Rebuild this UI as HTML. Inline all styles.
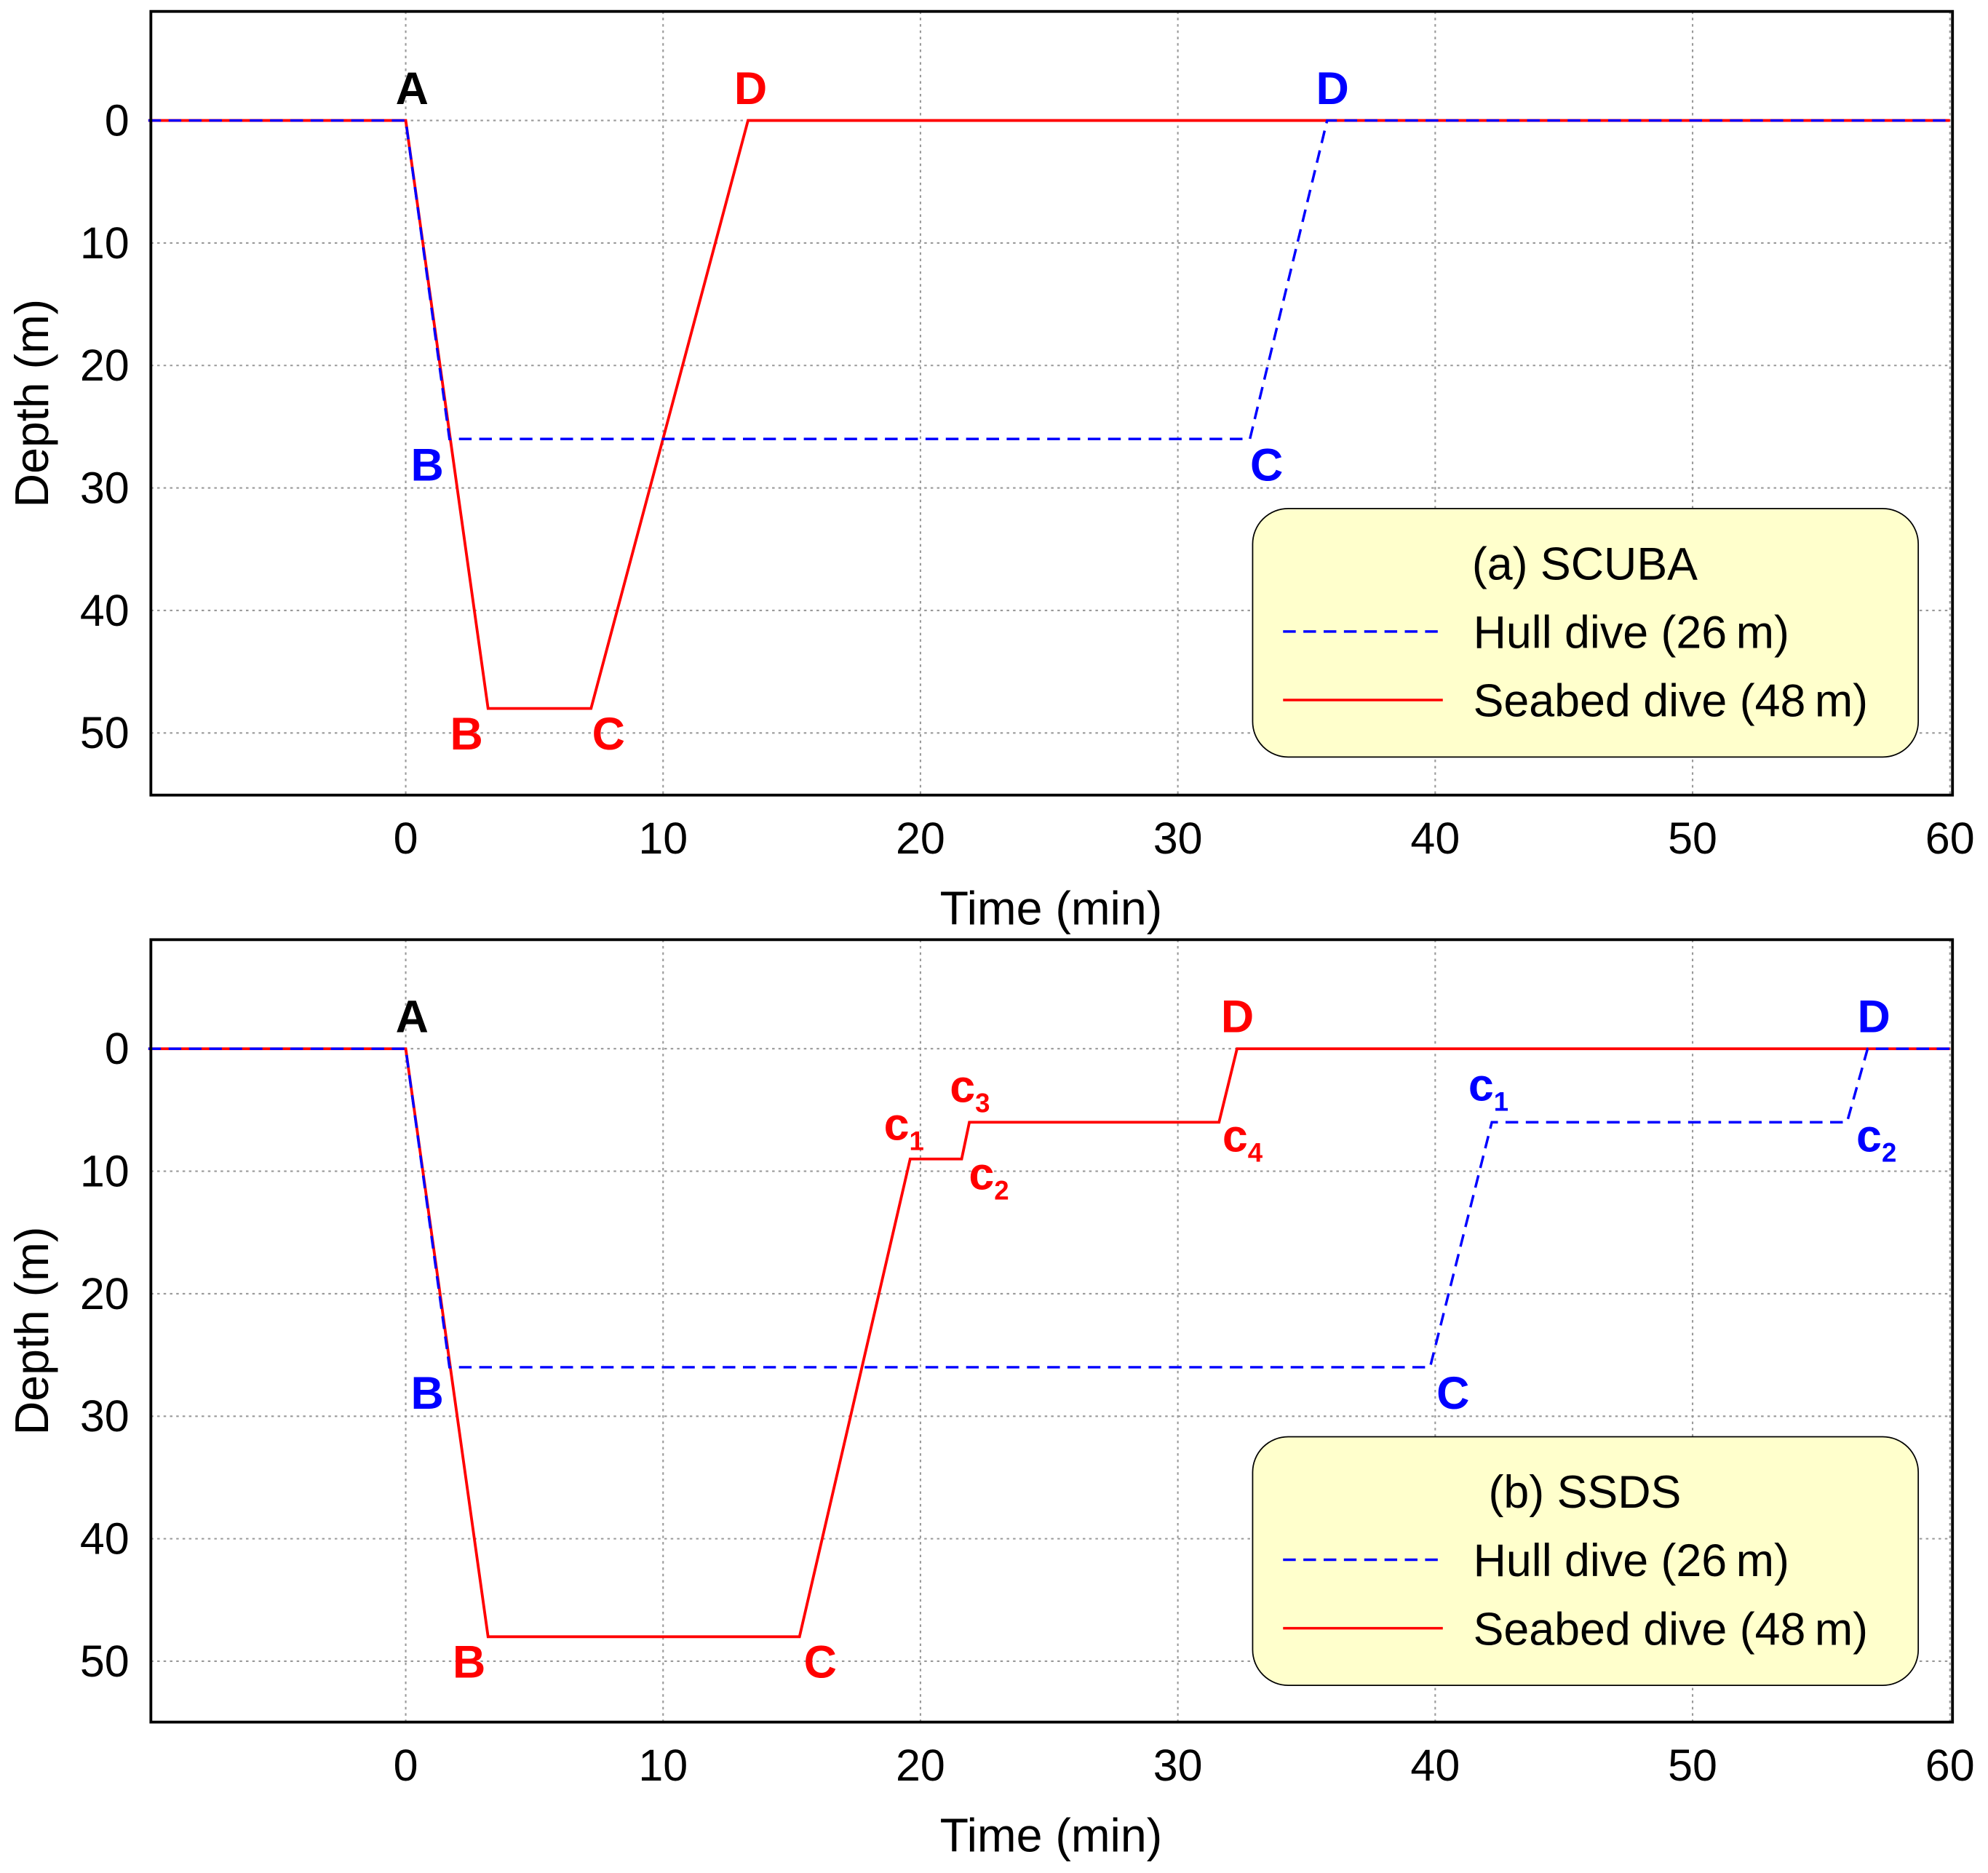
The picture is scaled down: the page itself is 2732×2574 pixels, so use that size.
<!DOCTYPE html>
<html><head><meta charset="utf-8"><style>
html,body{margin:0;padding:0;background:#fff;}
svg{display:block;font-family:"Liberation Sans",Arial,sans-serif;}
</style></head><body>
<svg id="chart" xmlns="http://www.w3.org/2000/svg" width="2732" height="2574" viewBox="0 0 1568 1477" preserveAspectRatio="none"></svg>
<script>
const xTicks = [0,10,20,30,40,50,60];
const yTicks = [0,10,20,30,40,50];
const topHullT = [-10,0,1.7,32.8,35.8,60];
const topHullD = [0,0,26,26,0,0];
const topSeaT = [-10,0,3.2,7.2,13.3,60];
const topSeaD = [0,0,48,48,0,0];
const botHullT = [-10,0,1.7,39.8,42.2,56,56.8,60];
const botHullD = [0,0,26,26,6,6,0,0];
const botSeaT = [-10,0,3.2,15.3,19.6,21.6,21.9,31.6,32.3,60];
const botSeaD = [0,0,48,48,9,9,6,6,0,0];

const NS='http://www.w3.org/2000/svg';
const svg=document.getElementById('chart');
function mk(tag,attrs,parent){const e=document.createElementNS(NS,tag);for(const k in attrs)e.setAttribute(k,attrs[k]);(parent||svg).appendChild(e);return e;}

function panel(id,top,bottom,y0px,y50px,hullT,hullD,seaT,seaD,title,labels,legTop){
  const L=119,R=1540;
  const sx=t=>320+(t)*(1538-320)/60;
  const sy=d=>y0px+d*(y50px-y0px)/50;
  const g=mk('g',{});
  
  
  xTicks.forEach(t=>{const l=mk('line',{x1:sx(t),x2:sx(t),y1:top,y2:bottom,stroke:'#999','stroke-width':1.2,'stroke-dasharray':'2 3'},g);
    
    const tx=mk('text',{x:sx(t),y:bottom+46,'font-size':35,'text-anchor':'middle',fill:'#000'},g);tx.textContent=t;
    });
  yTicks.forEach(d=>{const l=mk('line',{x1:L,x2:R,y1:sy(d),y2:sy(d),stroke:'#999','stroke-width':1.2,'stroke-dasharray':'2 3'},g);
    
    const tx=mk('text',{x:102,y:sy(d)+12,'font-size':35,'text-anchor':'end',fill:'#000'},g);tx.textContent=d;
    });
  const lb=mk('rect',{x:988,y:legTop,width:525,height:196,rx:28,fill:'#ffffcc',stroke:'#000','stroke-width':1},g);
  
  const lt=mk('text',{x:1250,y:legTop+56,'font-size':36,'text-anchor':'middle'},g);lt.textContent=title;
  
  const l1=mk('line',{x1:1012,x2:1138,y1:legTop+97,y2:legTop+97,stroke:'#0000ff','stroke-width':2,'stroke-dasharray':'10 6'},g);
  
  const t1=mk('text',{x:1162,y:legTop+110,'font-size':36},g);t1.textContent='Hull dive (26\u2009m)';
  
  const l2=mk('line',{x1:1012,x2:1138,y1:legTop+151,y2:legTop+151,stroke:'#ff0000','stroke-width':2},g);
  
  const t2=mk('text',{x:1162,y:legTop+164,'font-size':36},g);t2.textContent='Seabed dive (48\u2009m)';
  
  const pts=(T,D)=>T.map((t,i)=>sx(t)+','+sy(D[i])).join(' ');
  const s=mk('polyline',{points:pts(seaT,seaD),fill:'none',stroke:'#ff0000','stroke-width':2.2},g);
  
  const h=mk('polyline',{points:pts(hullT,hullD),fill:'none',stroke:'#0000ff','stroke-width':2,'stroke-dasharray':'10 6'},g);
  
  const f=mk('rect',{x:L,y:top,width:R-L,height:bottom-top,fill:'none',stroke:'#000','stroke-width':2.2},g);
  
  labels.forEach(lab=>{const t=mk('text',{x:lab[1],y:lab[2],'font-size':36,'font-weight':'bold',fill:lab[3],'text-anchor':'middle'},g);
    t.textContent=lab[0];
    if(lab[4]){const sub=mk('tspan',{'font-size':21,dy:8},t);sub.textContent=lab[4];}
    });
  const xt=mk('text',{x:829,y:bottom+102,'font-size':37,'text-anchor':'middle'},g);xt.textContent='Time (min)';
  
  const cy=(top+bottom)/2;
  const yt=mk('text',{x:38,y:cy,'font-size':37,'text-anchor':'middle',transform:`rotate(-90 38 ${cy})`},g);yt.textContent='Depth (m)';
  
}
panel('panel-a-scuba',9,627,95,578,topHullT,topHullD,topSeaT,topSeaD,'(a) SCUBA',
 [['A',325,82,'#000'],['D',592,82,'#f00'],['D',1051,82,'#00f'],['B',337,379,'#00f'],['C',999,379,'#00f'],['B',368,591,'#f00'],['C',480,591,'#f00']],401);
panel('panel-b-ssds',741,1358,827,1310,botHullT,botHullD,botSeaT,botSeaD,'(b) SSDS',
 [['A',325,814,'#000'],['D',976,814,'#f00'],['D',1478,814,'#00f'],['B',337,1111,'#00f'],['C',1146,1111,'#00f'],['B',370,1323,'#f00'],['C',647,1323,'#f00'],
  ['c',713,899,'#f00','1'],['c',780,938,'#f00','2'],['c',765,869,'#f00','3'],['c',980,908,'#f00','4'],['c',1174,868,'#00f','1'],['c',1480,908,'#00f','2']],1133);
</script>
</body></html>
